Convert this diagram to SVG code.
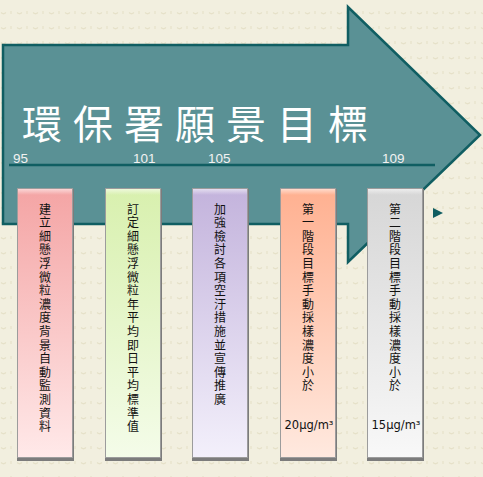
<svg xmlns="http://www.w3.org/2000/svg" width="483" height="477" viewBox="0 0 483 477">
<style>
.yr{font-family:"Liberation Sans",Arial,sans-serif;font-size:13.5px;fill:#F2F2F2}
.vt{font-family:"Noto Sans CJK TC","Noto Sans CJK SC",sans-serif;font-size:12px;fill:#111;writing-mode:vertical-rl}
.unit{font-family:"DejaVu Sans","Liberation Sans",sans-serif;font-size:11.5px;fill:#111;text-anchor:middle}
.shadow{fill:#7C7C7C}
.box{stroke:#9C9C9C;stroke-width:1}
</style>
<defs>
<pattern id="bg" width="16" height="15" patternUnits="userSpaceOnUse" x="0" y="0">
<path d="M1,12.5 Q3.5,15 6,12.5" fill="none" stroke="#E6E1C9" stroke-width="1.2"/>
<line x1="11" y1="11" x2="11" y2="14" stroke="#E6E1C9" stroke-width="1.2"/>
</pattern>
<linearGradient id="g1" x1="0" y1="0" x2="0" y2="1"><stop offset="0" stop-color="#F4A4A4"/><stop offset="1" stop-color="#FFE9E9"/></linearGradient>
<linearGradient id="g2" x1="0" y1="0" x2="0" y2="1"><stop offset="0" stop-color="#D8F0AE"/><stop offset="1" stop-color="#F4FCE9"/></linearGradient>
<linearGradient id="g3" x1="0" y1="0" x2="0" y2="1"><stop offset="0" stop-color="#C3B3DC"/><stop offset="1" stop-color="#F3F0FB"/></linearGradient>
<linearGradient id="g4" x1="0" y1="0" x2="0" y2="1"><stop offset="0" stop-color="#FFB090"/><stop offset="1" stop-color="#FFE9DF"/></linearGradient>
<linearGradient id="g5" x1="0" y1="0" x2="0" y2="1"><stop offset="0" stop-color="#D6D6D6"/><stop offset="1" stop-color="#F8F8F8"/></linearGradient>
<linearGradient id="bev" x1="0" y1="0" x2="0" y2="1"><stop offset="0" stop-color="#FFFFFF" stop-opacity="0.55"/><stop offset="1" stop-color="#FFFFFF" stop-opacity="0"/></linearGradient>
</defs>
<rect width="483" height="477" fill="#F2EFDF"/>
<rect width="483" height="477" fill="url(#bg)"/>
<g id="arrow">
<path d="M3,45 L348,45 L348,7 L480,135 L348,262 L348,224 L3,224 Z" fill="#5A9195" stroke="#105E62" stroke-width="2.5" stroke-linejoin="miter"/>
<text x="22" y="138.5" font-family="Noto Sans CJK TC,Noto Sans CJK SC,sans-serif" font-size="40" letter-spacing="11" fill="#FFFFFF">環保署願景目標</text>
</g>
<g id="connectors">
<line x1="9" y1="165" x2="435" y2="165" stroke="#105E62" stroke-width="2.5"/>
<path d="M433,208 L443,213 L433,218 Z" fill="#105E62"/>
</g>
<g id="years">
<text class="yr" x="13" y="162.5">95</text>
<text class="yr" x="133" y="162.5">101</text>
<text class="yr" x="208" y="162.5">105</text>
<text class="yr" x="382" y="162.5">109</text>
</g>
<g id="box1">
<rect class="shadow" x="17" y="189" width="57" height="272"/>
<rect class="box" x="17.5" y="188.5" width="55" height="269" fill="url(#g1)"/>
<rect x="18" y="189" width="54" height="6" fill="url(#bev)"/>
<text class="vt"><tspan x="45" y="203">建</tspan><tspan x="45" y="216.6">立</tspan><tspan x="45" y="230.2">細</tspan><tspan x="45" y="243.8">懸</tspan><tspan x="45" y="257.4">浮</tspan><tspan x="45" y="271">微</tspan><tspan x="45" y="284.6">粒</tspan><tspan x="45" y="298.2">濃</tspan><tspan x="45" y="311.8">度</tspan><tspan x="45" y="325.4">背</tspan><tspan x="45" y="339">景</tspan><tspan x="45" y="352.6">自</tspan><tspan x="45" y="366.2">動</tspan><tspan x="45" y="379.8">監</tspan><tspan x="45" y="393.4">測</tspan><tspan x="45" y="407">資</tspan><tspan x="45" y="420.6">料</tspan></text>
</g>
<g id="box2">
<rect class="shadow" x="105" y="189" width="57" height="272"/>
<rect class="box" x="105.5" y="188.5" width="55" height="269" fill="url(#g2)"/>
<rect x="106" y="189" width="54" height="6" fill="url(#bev)"/>
<text class="vt"><tspan x="133" y="203">訂</tspan><tspan x="133" y="216.6">定</tspan><tspan x="133" y="230.2">細</tspan><tspan x="133" y="243.8">懸</tspan><tspan x="133" y="257.4">浮</tspan><tspan x="133" y="271">微</tspan><tspan x="133" y="284.6">粒</tspan><tspan x="133" y="298.2">年</tspan><tspan x="133" y="311.8">平</tspan><tspan x="133" y="325.4">均</tspan><tspan x="133" y="339">即</tspan><tspan x="133" y="352.6">日</tspan><tspan x="133" y="366.2">平</tspan><tspan x="133" y="379.8">均</tspan><tspan x="133" y="393.4">標</tspan><tspan x="133" y="407">準</tspan><tspan x="133" y="420.6">值</tspan></text>
</g>
<g id="box3">
<rect class="shadow" x="192" y="189" width="57" height="272"/>
<rect class="box" x="192.5" y="188.5" width="55" height="269" fill="url(#g3)"/>
<rect x="193" y="189" width="54" height="6" fill="url(#bev)"/>
<text class="vt"><tspan x="220" y="203">加</tspan><tspan x="220" y="216.6">強</tspan><tspan x="220" y="230.2">檢</tspan><tspan x="220" y="243.8">討</tspan><tspan x="220" y="257.4">各</tspan><tspan x="220" y="271">項</tspan><tspan x="220" y="284.6">空</tspan><tspan x="220" y="298.2">汙</tspan><tspan x="220" y="311.8">措</tspan><tspan x="220" y="325.4">施</tspan><tspan x="220" y="339">並</tspan><tspan x="220" y="352.6">宣</tspan><tspan x="220" y="366.2">傳</tspan><tspan x="220" y="379.8">推</tspan><tspan x="220" y="393.4">廣</tspan></text>
</g>
<g id="box4">
<rect class="shadow" x="280" y="189" width="57" height="272"/>
<rect class="box" x="280.5" y="188.5" width="55" height="269" fill="url(#g4)"/>
<rect x="281" y="189" width="54" height="6" fill="url(#bev)"/>
<text class="vt"><tspan x="308" y="203">第</tspan><tspan x="308" y="216.6">一</tspan><tspan x="308" y="230.2">階</tspan><tspan x="308" y="243.8">段</tspan><tspan x="308" y="257.4">目</tspan><tspan x="308" y="271">標</tspan><tspan x="308" y="284.6">手</tspan><tspan x="308" y="298.2">動</tspan><tspan x="308" y="311.8">採</tspan><tspan x="308" y="325.4">樣</tspan><tspan x="308" y="339">濃</tspan><tspan x="308" y="352.6">度</tspan><tspan x="308" y="366.2">小</tspan><tspan x="308" y="379.8">於</tspan></text>
<text class="unit" x="309" y="429">20μg/m³</text>
</g>
<g id="box5">
<rect class="shadow" x="367" y="189" width="57" height="272"/>
<rect class="box" x="367.5" y="188.5" width="55" height="269" fill="url(#g5)"/>
<rect x="368" y="189" width="54" height="6" fill="url(#bev)"/>
<text class="vt"><tspan x="395" y="203">第</tspan><tspan x="395" y="216.6">二</tspan><tspan x="395" y="230.2">階</tspan><tspan x="395" y="243.8">段</tspan><tspan x="395" y="257.4">目</tspan><tspan x="395" y="271">標</tspan><tspan x="395" y="284.6">手</tspan><tspan x="395" y="298.2">動</tspan><tspan x="395" y="311.8">採</tspan><tspan x="395" y="325.4">樣</tspan><tspan x="395" y="339">濃</tspan><tspan x="395" y="352.6">度</tspan><tspan x="395" y="366.2">小</tspan><tspan x="395" y="379.8">於</tspan></text>
<text class="unit" x="396" y="429">15μg/m³</text>
</g>
</svg>
